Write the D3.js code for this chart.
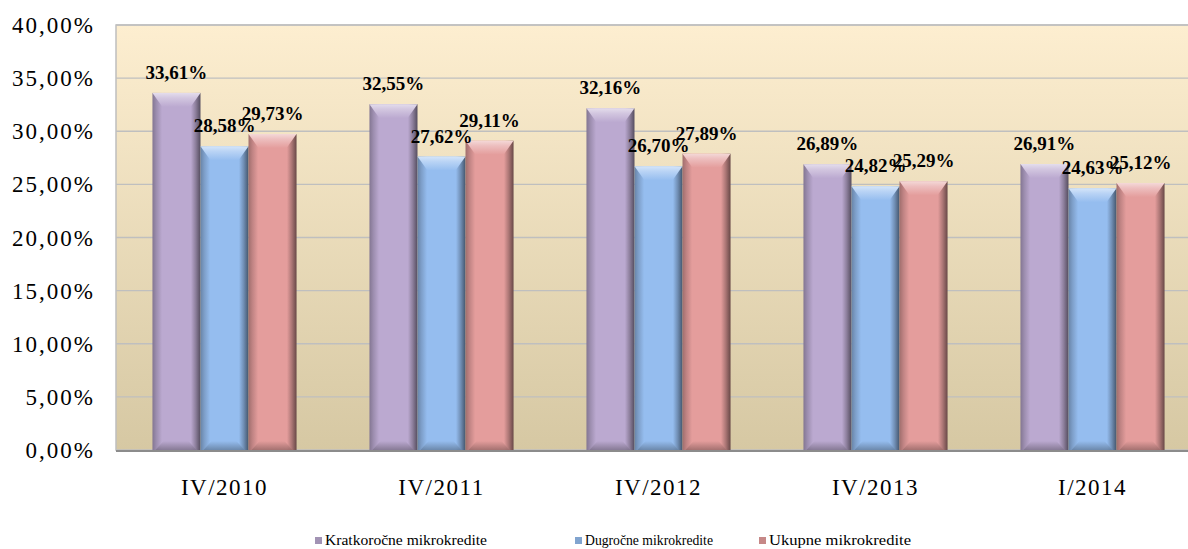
<!DOCTYPE html>
<html lang="hr">
<head>
<meta charset="UTF-8">
<title>Mikrokrediti</title>
<script src="https://d3js.org/d3.v7.min.js"></script>
<style>
  body { margin: 0; background: #fff; }
  text { font-family: "Liberation Serif", "Times New Roman", serif; }
</style>
</head>
<body>
<div id="chart"></div>
<script>
// data
const categories = ["IV/2010", "IV/2011", "IV/2012", "IV/2013", "I/2014"];
const seriesNames = ["Kratkoročne mikrokredite", "Dugročne mikrokredite", "Ukupne mikrokredite"];
const kratkorocne = [33.61, 32.55, 32.16, 26.89, 26.91];
const dugorocne = [28.58, 27.62, 26.70, 24.82, 24.63];
const ukupne = [29.73, 29.11, 27.89, 25.29, 25.12];
const yTicks = [0, 5, 10, 15, 20, 25, 30, 35, 40];
const colors = ["#bba9d0", "#95bdef", "#e49d9c"];

const seriesValues = [kratkorocne, dugorocne, ukupne];
const W = 1188, H = 549;
const plot = {left: 116, right: 1201, top: 25, bottom: 450};

const svg = d3.select("#chart").append("svg")
    .attr("width", W).attr("height", H);
const defs = svg.append("defs");

// background gradient of plot area
const bg = defs.append("linearGradient").attr("id", "bg")
    .attr("x1", 0).attr("y1", 0).attr("x2", 0).attr("y2", 1);
bg.append("stop").attr("offset", "0%").attr("stop-color", "#fdeed0");
bg.append("stop").attr("offset", "100%").attr("stop-color", "#d6c8a3");

// bar shading per series
colors.forEach((c, i) => {
    const body = defs.append("linearGradient").attr("id", "body" + i)
        .attr("x1", 0).attr("y1", 0).attr("x2", 1).attr("y2", 0);
    [[0, d3.color(c).darker(1.0)], [0.08, d3.color(c).darker(0.5)], [0.2, c],
     [0.8, c], [0.9, d3.color(c).darker(0.8)], [1, d3.color(c).darker(2.2)]]
        .forEach(s => body.append("stop").attr("offset", s[0]).attr("stop-color", s[1]));
    const cap = defs.append("linearGradient").attr("id", "cap" + i)
        .attr("x1", 0).attr("y1", 0).attr("x2", 0).attr("y2", 1);
    cap.append("stop").attr("offset", 0).attr("stop-color", d3.interpolateRgb(c, "#fff")(0.6));
    cap.append("stop").attr("offset", 0.35).attr("stop-color", d3.interpolateRgb(c, "#fff")(0.35));
    cap.append("stop").attr("offset", 1).attr("stop-color", c);
    const foot = defs.append("linearGradient").attr("id", "foot" + i)
        .attr("x1", 0).attr("y1", 0).attr("x2", 0).attr("y2", 1);
    foot.append("stop").attr("offset", 0).attr("stop-color", c);
    foot.append("stop").attr("offset", 1).attr("stop-color", d3.color(c).darker(1.1));
});

const x = d3.scaleBand().domain(categories)
    .range([plot.left, plot.right])
    .paddingInner(0.336).paddingOuter(0.168);
const xs = d3.scaleBand().domain(d3.range(seriesNames.length))
    .range([0, x.bandwidth()]);
const y = d3.scaleLinear().domain([0, 40]).range([plot.bottom, plot.top]);

// plot area
svg.append("rect")
    .attr("x", plot.left).attr("y", plot.top)
    .attr("width", plot.right - plot.left).attr("height", plot.bottom - plot.top)
    .attr("fill", "url(#bg)").attr("stroke", "#bfbfbf").attr("stroke-width", 1.5);

// gridlines
svg.append("g").selectAll("line").data(yTicks.slice(1)).join("line")
    .attr("x1", plot.left).attr("x2", plot.right)
    .attr("y1", d => y(d)).attr("y2", d => y(d))
    .attr("stroke", "#bfbfbf").attr("stroke-width", 1.3);

const fmt = v => v.toFixed(2).replace(".", ",") + "%";

// y labels
svg.append("g").selectAll("text").data(yTicks).join("text")
    .attr("x", 95).attr("y", d => y(d) + 8)
    .attr("text-anchor", "end")
    .attr("font-size", 23).attr("letter-spacing", "2px")
    .attr("fill", "#000")
    .text(d => fmt(d));

// bars
const bars = [];
categories.forEach((cat, ci) => {
    seriesValues.forEach((vals, si) => {
        bars.push({cat, si, v: vals[ci]});
    });
});

const g = svg.append("g");
bars.forEach(d => {
    const x0 = x(d.cat) + xs(d.si), w = xs.bandwidth();
    const y0 = y(d.v), y1 = y(0);
    const b = g.append("g");
    b.append("rect").attr("x", x0).attr("y", y0).attr("width", w).attr("height", y1 - y0)
        .attr("fill", "url(#body" + d.si + ")");
    // bottom bevel
    b.append("polygon")
        .attr("points", [[x0 + 3, y1], [x0 + w - 4, y1], [x0 + w - 12, y1 - 9], [x0 + 11, y1 - 9]].join(" "))
        .attr("fill", "url(#foot" + d.si + ")").attr("opacity", 0.85);
    // top bevel
    b.append("polygon")
        .attr("points", [[x0, y0], [x0 + w, y0], [x0 + w - 10, y0 + 14], [x0 + 10, y0 + 14]].join(" "))
        .attr("fill", "url(#cap" + d.si + ")");
});

// axis line
svg.append("line")
    .attr("x1", plot.left).attr("x2", plot.right)
    .attr("y1", plot.bottom + 1).attr("y2", plot.bottom + 1)
    .attr("stroke", "#8c8c8c").attr("stroke-width", 2);

// data labels
svg.append("g").selectAll("text").data(bars).join("text")
    .attr("x", d => x(d.cat) + xs(d.si) + xs.bandwidth() / 2)
    .attr("y", d => y(d.v) - 14)
    .attr("text-anchor", "middle")
    .attr("font-size", 19).attr("font-weight", "bold")
    .attr("fill", "#000")
    .text(d => fmt(d.v));

// category labels
svg.append("g").selectAll("text").data(categories).join("text")
    .attr("x", d => x(d) + x.bandwidth() / 2)
    .attr("y", 495)
    .attr("text-anchor", "middle")
    .attr("font-size", 23).attr("letter-spacing", "1.5px")
    .attr("fill", "#000")
    .text(d => d);

// legend
const legendX = [315, 575, 759];
const legendW = [162, 128, 142];
const leg = svg.append("g").selectAll("g").data(seriesNames).join("g")
    .attr("transform", (d, i) => `translate(${legendX[i]},541)`);
leg.append("rect").attr("x", 0).attr("y", -4).attr("width", 7).attr("height", 7)
    .attr("fill", (d, i) => d3.color(colors[i]).darker(0.4));
leg.append("text").attr("x", 10).attr("y", 4)
    .attr("font-size", 14).attr("fill", "#000")
    .attr("textLength", (d, i) => legendW[i]).attr("lengthAdjust", "spacingAndGlyphs")
    .text(d => d);
</script>
</body>
</html>
